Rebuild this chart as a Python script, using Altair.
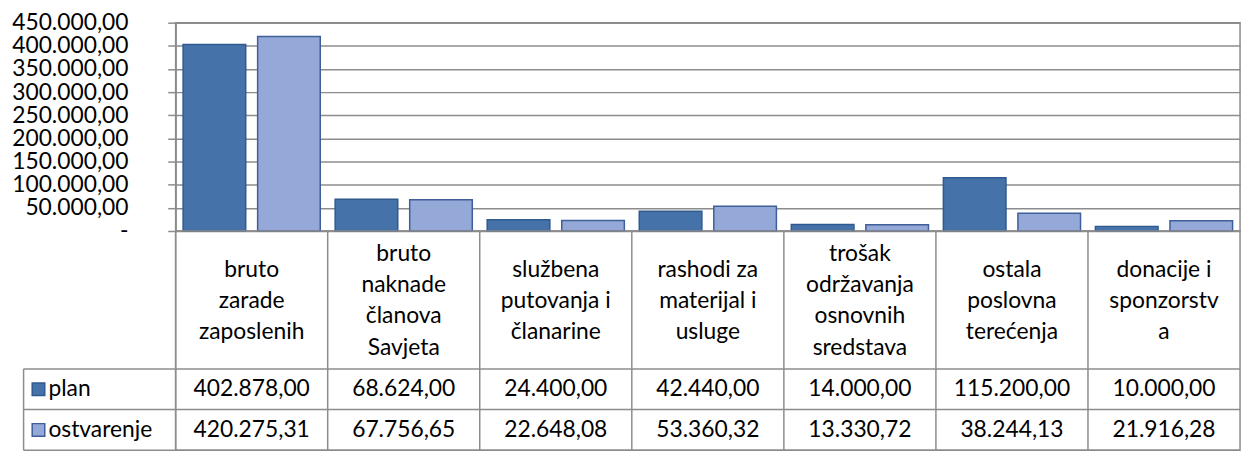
import altair as alt
import pandas as pd

# ---------------- data ----------------
categories = [
    "bruto\nzarade\nzaposlenih",
    "bruto\nnaknade\nčlanova\nSavjeta",
    "službena\nputovanja i\nčlanarine",
    "rashodi za\nmaterijal i\nusluge",
    "trošak\nodržavanja\nosnovnih\nsredstava",
    "ostala\nposlovna\nterećenja",
    "donacije i\nsponzorstv\na",
]
series = ["plan", "ostvarenje"]
plan = [402878.00, 68624.00, 24400.00, 42440.00, 14000.00, 115200.00, 10000.00]
ostvarenje = [420275.31, 67756.65, 22648.08, 53360.32, 13330.72, 38244.13, 21916.28]
y_ticks = [0, 50000, 100000, 150000, 200000, 250000, 300000, 350000, 400000, 450000]

# ---------------- styles ----------------
FONT = "Lato"
FS = 23
LH = 31.5
fill_colors = ["#4672AA", "#95A9D8"]
stroke_colors = ["#2F5A8F", "#3E5F97"]
GRID = "#8C8C8C"
W = 1073
H_PLOT = 210
HEADER_H = 139
ROW_H = 41
TABLE_H = HEADER_H + 2 * ROW_H
n = len(categories)
unit = W / n


def fmt(v):
    s = f"{v:,.2f}"
    return s.replace(",", "#").replace(".", ",").replace("#", ".")


rows = []
for c, p, o in zip(categories, plan, ostvarenje):
    rows.append({"cat": c, "series": "plan", "value": p})
    rows.append({"cat": c, "series": "ostvarenje", "value": o})
df = pd.DataFrame(rows)

label_expr = ("datum.value == 0 ? '-' : replace(replace(replace(format(datum.value, ',.2f'), ',', '#'), '.', ','), '#', '.')")

bars = alt.Chart(df).mark_bar(strokeWidth=1.5).encode(
    x=alt.X("cat:N", sort=categories, scale=alt.Scale(paddingInner=0, paddingOuter=0), axis=None),
    xOffset=alt.XOffset("series:N", sort=series,
                        scale=alt.Scale(domain=series, paddingInner=0.16, paddingOuter=0.1)),
    y=alt.Y("value:Q", scale=alt.Scale(domain=[0, 450000], nice=False),
            axis=alt.Axis(values=y_ticks, labelExpr=label_expr, grid=True, gridColor=GRID,
                          gridWidth=1.5, tickSize=8, tickColor=GRID, tickWidth=1.5,
                          domainColor=GRID, domainWidth=1.5, labelPadding=40,
                          labelFont=FONT, labelFontSize=FS, labelColor="black", title=None)),
    color=alt.Color("series:N", scale=alt.Scale(domain=series, range=fill_colors), legend=None),
    stroke=alt.Stroke("series:N", scale=alt.Scale(domain=series, range=stroke_colors), legend=None),
).properties(width=W, height=H_PLOT)

# ---------------- table ----------------
xs = alt.Scale(domain=[-1, n], range=[-unit, W])
ys = alt.Scale(domain=[0, TABLE_H], range=[0, TABLE_H])

lines = []
for yb in [HEADER_H, HEADER_H + ROW_H, TABLE_H]:
    lines.append({"x": -1, "x2": n, "y": yb, "y2": yb})
for i in range(1, n):
    lines.append({"x": i, "x2": i, "y": 0, "y2": TABLE_H})
lines.append({"x": -1, "x2": -1, "y": HEADER_H, "y2": TABLE_H})
lines.append({"x": 0, "x2": 0, "y": 0, "y2": TABLE_H})
df_lines = pd.DataFrame(lines)

grid = alt.Chart(df_lines).mark_rule(color=GRID, strokeWidth=1.5).encode(
    x=alt.X("x:Q", scale=xs, axis=None),
    x2="x2:Q",
    y=alt.Y("y:Q", scale=ys, axis=None),
    y2="y2:Q",
)

df_head = pd.DataFrame({
    "cat": categories,
    "x": [i + 0.5 for i in range(n)],
    "y": [HEADER_H / 2 + 1 - (c.count("\n")) * LH / 2 for c in categories],
})
head = alt.Chart(df_head).mark_text(font=FONT, fontSize=FS, lineBreak="\n", lineHeight=LH,
                                    baseline="middle", align="center", color="black").encode(
    x=alt.X("x:Q", scale=xs, axis=None),
    y=alt.Y("y:Q", scale=ys, axis=None),
    text="cat:N",
)

vals = []
for r, (s, arr) in enumerate(zip(series, [plan, ostvarenje])):
    for i, v in enumerate(arr):
        vals.append({"x": i + 0.5, "y": HEADER_H + ROW_H * r + ROW_H / 2, "t": fmt(v)})
df_vals = pd.DataFrame(vals)
valtext = alt.Chart(df_vals).mark_text(font=FONT, fontSize=FS, baseline="middle",
                                       align="center", color="black").encode(
    x=alt.X("x:Q", scale=xs, axis=None),
    y=alt.Y("y:Q", scale=ys, axis=None),
    text="t:N",
)

df_leg = pd.DataFrame({"series": series,
                       "x": [-1 + 15 / unit] * 2,
                       "xt": [-1 + 25 / unit] * 2,
                       "y": [HEADER_H + ROW_H * r + ROW_H / 2 for r in range(2)]})
legsq = alt.Chart(df_leg).mark_square(size=160, opacity=1, strokeWidth=1.5).encode(
    x=alt.X("x:Q", scale=xs, axis=None),
    y=alt.Y("y:Q", scale=ys, axis=None),
    fill=alt.Fill("series:N", scale=alt.Scale(domain=series, range=fill_colors), legend=None),
    stroke=alt.Stroke("series:N", scale=alt.Scale(domain=series, range=stroke_colors), legend=None),
)
legtxt = alt.Chart(df_leg).mark_text(font=FONT, fontSize=FS, baseline="middle", align="left",
                                     color="black").encode(
    x=alt.X("xt:Q", scale=xs, axis=None),
    y=alt.Y("y:Q", scale=ys, axis=None),
    text="series:N",
)

table = alt.layer(grid, head, valtext, legsq, legtxt).properties(width=W, height=TABLE_H)

chart = alt.vconcat(bars, table, spacing=0, bounds="flush").properties(
    padding={"left": 2, "top": 1, "right": 2, "bottom": 2}
).configure_view(stroke=GRID, strokeWidth=1.5)

chart.save("out.html", embed_options={"renderer": "svg", "actions": False})
